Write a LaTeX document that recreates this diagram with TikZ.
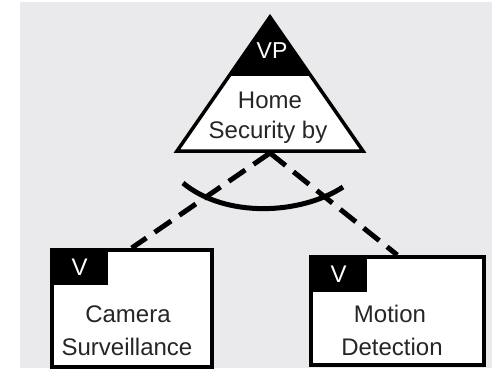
\documentclass[tikz,border=0pt]{standalone}
\usepackage{fontspec}
\setmainfont{Liberation Sans}
\definecolor{bggray}{HTML}{EAEAEC}
\begin{document}
\begin{tikzpicture}[x=1pt,y=-1pt,
  label/.style={font=\fontsize{24}{27}\selectfont, text=black!85, inner sep=0pt, anchor=center},
  tabtext/.style={font=\fontsize{24}{27}\selectfont, text=white, inner sep=0pt},
  featbox/.style={draw=black, line width=3.5pt, fill=white, inner sep=0pt, anchor=north west},
  tab/.style={fill=black, inner sep=0pt, anchor=north west},
  optline/.style={line width=5pt, dash pattern=on 20pt off 10pt},
  groupline/.style={line width=5pt}]
  % canvas
  \useasboundingbox (0,0) rectangle (492,368);
  \fill[white] (0,0) rectangle (492,368);
  \fill[bggray] (20,2) rectangle (492,368);

  % variation point triangle
  \coordinate (apex) at (270,17);
  \coordinate (bl) at (177,151);
  \coordinate (br) at (363,151);
  \fill[white] (apex) -- (bl) -- (br) -- cycle;
  \begin{scope}
    \clip (0,0) rectangle (492,75);
    \fill[black] (apex) -- (bl) -- (br) -- cycle;
  \end{scope}
  \draw[line width=3.5pt, line join=miter] (apex) -- (bl) -- (br) -- cycle;
  \node[tabtext, font=\fontsize{23}{26}\selectfont] (vp) at (272,51) {VP};
  \node[label] (home) at (270,100) {Home};
  \node[label] (secby) at (268,132) {Security by};
  \coordinate (vpbase) at (270,153);

  % variant boxes
  \node[featbox, minimum width=160pt, minimum height=117pt] (cam) at (50,248) {};
  \node[tab, minimum width=56pt, minimum height=35pt] (camtab) at (51.5,249.5) {};
  \node[tabtext] (camv) at (camtab.center) {V};
  \node[label] (camt1) at (128,314) {Camera};
  \node[label] (camt2) at (127,347) {Surveillance};

  \node[featbox, minimum width=173pt, minimum height=108pt] (mot) at (309,255) {};
  \node[tab, minimum width=56pt, minimum height=35pt] (mottab) at (310.5,256.5) {};
  \node[tabtext] (motv) at (mottab.center) {V};
  \node[label] (mott1) at (390,314) {Motion};
  \node[label] (mott2) at (392,347) {Detection};

  % optional variant connectors
  \draw[optline] (vpbase) -- (cam.north);
  \draw[optline] (vpbase) -- (mot.north);

  % alternative group arc
  \coordinate (arcl) at (183,183);
  \coordinate (arcr) at (343,187);
  \draw[groupline] (arcl) .. controls (225,218) and (300,215) .. (arcr);
\end{tikzpicture}
\end{document}
